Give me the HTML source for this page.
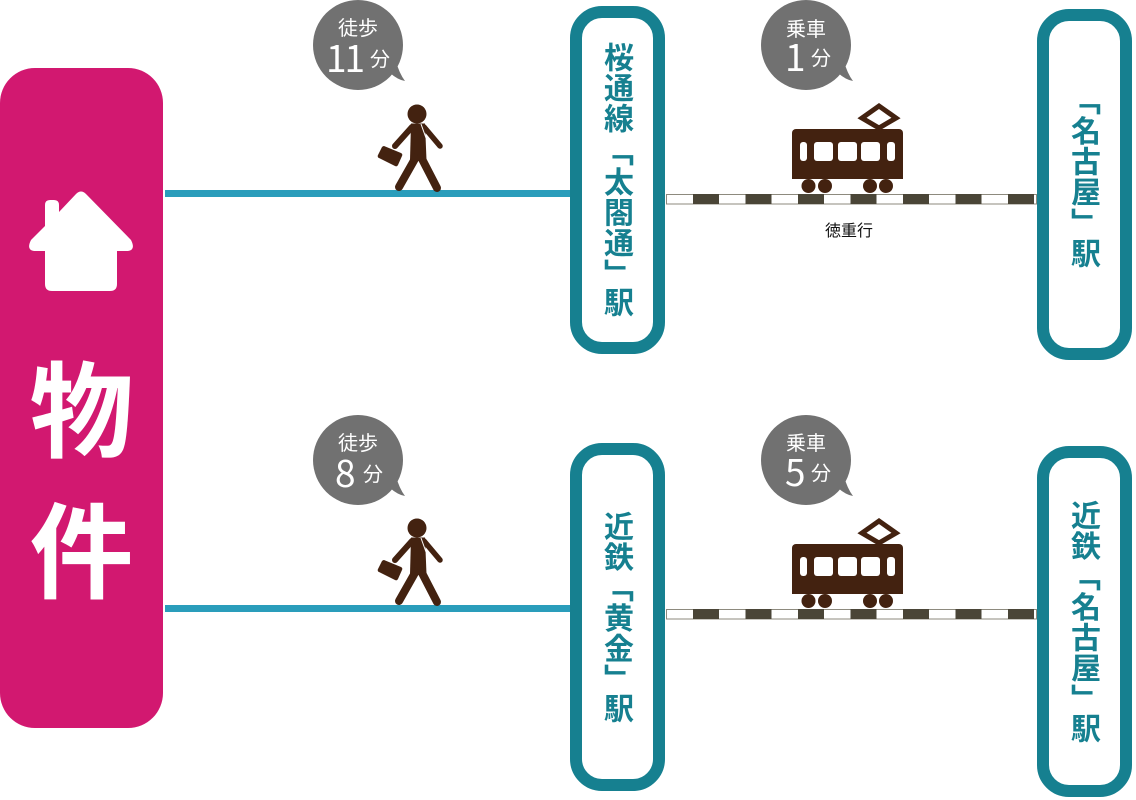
<!DOCTYPE html>
<html lang="ja"><head><meta charset="utf-8"><style>
html,body{margin:0;padding:0;background:#fff}
#p{position:relative;width:1136px;height:800px;overflow:hidden;background:#fff;font-family:"Liberation Sans","Noto Sans CJK JP",sans-serif}
#p svg{position:absolute;left:0;top:0}
.v{position:absolute;width:36px;writing-mode:vertical-rl;font-family:"Noto Sans CJK JP",sans-serif;font-weight:700;font-size:30px;line-height:36px;letter-spacing:.6px;color:#168090;white-space:nowrap}
.c{position:absolute;text-align:center;color:#fff;font-family:"Noto Sans CJK JP",sans-serif;white-space:nowrap;line-height:1}
.n{font-size:37px;letter-spacing:-2px;text-align:left}
</style></head><body><div id="p">
<svg width="1136" height="800" viewBox="0 0 1136 800">
<defs>
<g id="bub"><circle cx="0" cy="0" r="45" fill="#717171"/><path d="M38 16Q41 28 47 36Q40 35 32 28Z" fill="#717171"/></g>
<g id="man">
<circle cx="417" cy="114" r="9.500" fill="#432210"/>
<path d="M411 123.500L425 123.500L426.500 160L410 160Z" fill="#432210"/>
<g stroke="#432210" stroke-linecap="round" fill="none">
<path d="M412 127L395 146" stroke-width="6"/>
<path d="M424 127L440 146" stroke-width="5.500"/>
<path d="M416 157L399 187" stroke-width="8"/>
<path d="M421 157L437 188" stroke-width="8"/>
</g>
<path d="M384 146L401 153Q403 154 402 156L398 165Q397 167 395 166L379 158Q377 157 378 155L382 147Q383 146 384 146Z" fill="#432210"/>
<path d="M421 124L426 138" stroke="#fff" stroke-width="1" fill="none"/>
</g>
<g id="train">
<rect x="792" y="129" width="111" height="50" rx="4" fill="#432210"/>
<rect x="792" y="160" width="111" height="19" fill="#432210"/>
<path d="M879 106L896 118L879 128L862 118Z" fill="none" stroke="#432210" stroke-width="5"/>
<g fill="#fff">
<rect x="800" y="142" width="7" height="19" rx="3"/><rect x="814" y="142" width="19" height="19" rx="3"/><rect x="838" y="142" width="19" height="19" rx="3"/><rect x="861" y="142" width="19" height="19" rx="3"/><rect x="887" y="142" width="8" height="19" rx="3"/>
</g>
<g fill="#432210"><circle cx="808.500" cy="186" r="7"/><circle cx="825" cy="186" r="7"/><circle cx="870" cy="186" r="7"/><circle cx="886" cy="186" r="7"/></g>
</g>
<g id="rail">
<rect x="666.500" y="194.500" width="370" height="9.500" fill="#fff" stroke="#8d8a7e" stroke-width="1"/>
<g fill="#4a4537"><rect x="693" y="194" width="26" height="10"/><rect x="745.500" y="194" width="26" height="10"/><rect x="798" y="194" width="26" height="10"/><rect x="850.500" y="194" width="26" height="10"/><rect x="903" y="194" width="26" height="10"/><rect x="955.500" y="194" width="26" height="10"/><rect x="1008" y="194" width="26" height="10"/></g>
</g>
</defs>
<rect x="0" y="68" width="163" height="660" rx="35" fill="#d21870"/>
<path d="M45 205Q45 200 50 200L54 200Q59 200 59 205L59 212L76 194Q81 189 86 194L131 240Q136 250 128 251L117 251L117 284Q117 291 110 291L52 291Q45 291 45 284L45 251L34 251Q26 250 31 240L45 226Z" fill="#fff"/>
<rect x="165" y="190" width="406" height="7" fill="#2a9dbb"/>
<rect x="165" y="605" width="406" height="7" fill="#2a9dbb"/>
<use href="#rail"/><use href="#rail" y="415"/>
<use href="#train"/><use href="#train" y="415"/>
<use href="#man"/><use href="#man" y="414"/>
<use href="#bub" x="358" y="45"/><use href="#bub" x="806" y="45"/><use href="#bub" x="358" y="460"/><use href="#bub" x="806" y="460"/>
<g fill="#fff" stroke="#168090" stroke-width="12">
<rect x="576" y="12" width="83" height="336" rx="26"/>
<rect x="1043" y="15" width="83" height="339" rx="26"/>
<rect x="576" y="449" width="83" height="336" rx="26"/>
<rect x="1043" y="452" width="83" height="339" rx="26"/>
</g>
</svg>

<div class="c" style="left:0;top:352px;width:163px;font-size:104px;font-weight:700">物</div>
<div class="c" style="left:0;top:493px;width:163px;font-size:104px;font-weight:700">件</div>

<div class="v" style="left:601px;top:42px">桜通線</div>
<div class="v" style="left:601px;top:136px">「太閤通」</div>
<div class="v" style="left:601px;top:287px">駅</div>

<div class="v" style="left:1068px;top:85px">「名古屋」</div>
<div class="v" style="left:1068px;top:238px">駅</div>

<div class="v" style="left:601px;top:511px">近鉄</div>
<div class="v" style="left:601px;top:572px">「黄金」</div>
<div class="v" style="left:601px;top:693px">駅</div>

<div class="v" style="left:1068px;top:500px">近鉄</div>
<div class="v" style="left:1068px;top:561px">「名古屋」</div>
<div class="v" style="left:1068px;top:713px">駅</div>

<div class="c" style="left:318px;top:17px;width:80px;font-size:20px">徒歩</div>
<div class="c n" style="left:326px;top:38px">11</div>
<div class="c" style="left:370px;top:48px;font-size:20px">分</div>

<div class="c" style="left:766px;top:18px;width:80px;font-size:20px">乗車</div>
<div class="c n" style="left:785px;top:37px">1</div>
<div class="c" style="left:811px;top:47px;font-size:20px">分</div>

<div class="c" style="left:318px;top:432px;width:80px;font-size:20px">徒歩</div>
<div class="c n" style="left:335px;top:453px">8</div>
<div class="c" style="left:363px;top:463px;font-size:20px">分</div>

<div class="c" style="left:766px;top:432px;width:80px;font-size:20px">乗車</div>
<div class="c n" style="left:785px;top:452px">5</div>
<div class="c" style="left:811px;top:462px;font-size:20px">分</div>

<div class="c" style="left:809px;top:221px;width:80px;font-size:16px;color:#111">徳重行</div>
</div></body></html>
